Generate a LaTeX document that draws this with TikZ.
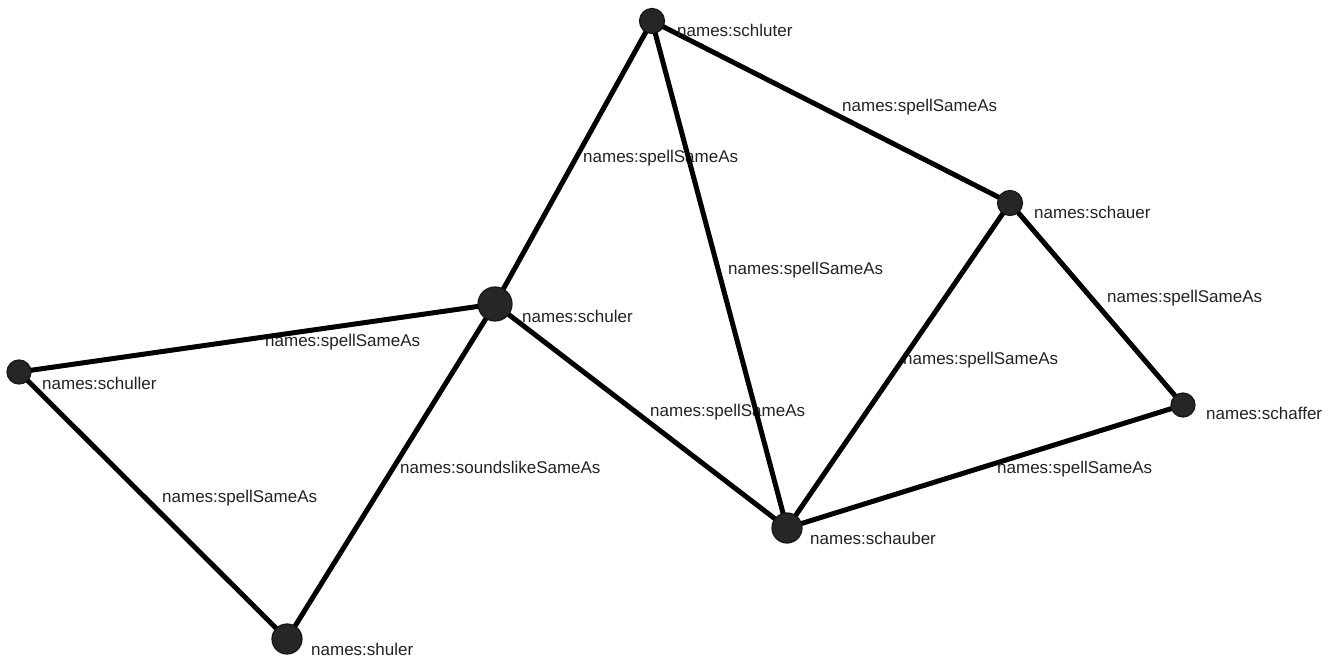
\documentclass[tikz,border=0pt]{standalone}
\usepackage{fontspec}
\setmainfont{Liberation Sans}
\definecolor{ink}{HTML}{262626}
\definecolor{rim}{HTML}{161616}
\definecolor{txt}{HTML}{222222}

\begin{document}
\begin{tikzpicture}[x=1pt,y=-1pt]
      \tikzset{
        ent/.style={circle,draw=rim,fill=ink,line width=1.2pt,inner sep=0pt},
        entlbl/.style={anchor=west,inner sep=0pt,text=txt,font=\fontsize{17}{19}\selectfont},
        rellbl/.style={anchor=west,inner sep=0pt,text=txt,font=\fontsize{17}{19}\selectfont},
        link/.style={draw=black,line width=5pt}
      }
      \useasboundingbox (0,0) rectangle (1334,660);

      % edge labels first, the links run over them
      \node[rellbl] (l1) at (583,158) {names:spellSameAs};
      \node[rellbl] (l2) at (728,270) {names:spellSameAs};
      \node[rellbl] (l3) at (842,107) {names:spellSameAs};
      \node[rellbl] (l4) at (1107,298) {names:spellSameAs};
      \node[rellbl] (l5) at (903,360) {names:spellSameAs};
      \node[rellbl] (l6) at (997,469) {names:spellSameAs};
      \node[rellbl] (l7) at (650,412) {names:spellSameAs};
      \node[rellbl] (l8) at (265,342) {names:spellSameAs};
      \node[rellbl] (l9) at (400,467) {names:soundslikeSameAs};
      \node[rellbl] (l10) at (162,498) {names:spellSameAs};

      \coordinate (schluter) at (652,21);
      \coordinate (schauer) at (1010,203);
      \coordinate (schuler) at (495,304);
      \coordinate (schuller) at (19,372);
      \coordinate (schaffer) at (1183,405);
      \coordinate (schauber) at (787,528);
      \coordinate (shuler) at (287,639);

      \draw[link] (schluter)--(schuler);
      \draw[link] (schluter)--(schauber);
      \draw[link] (schluter)--(schauer);
      \draw[link] (schauer)--(schaffer);
      \draw[link] (schauer)--(schauber);
      \draw[link] (schaffer)--(schauber);
      \draw[link] (schuler)--(schauber);
      \draw[link] (schuler)--(schuller);
      \draw[link] (schuler)--(shuler);
      \draw[link] (schuller)--(shuler);

      \node[ent,minimum size=25pt] (n1) at (schluter) {};
      \node[ent,minimum size=25pt] (n2) at (schauer) {};
      \node[ent,minimum size=34pt] (n3) at (schuler) {};
      \node[ent,minimum size=24pt] (n4) at (schuller) {};
      \node[ent,minimum size=24pt] (n5) at (schaffer) {};
      \node[ent,minimum size=30pt] (n6) at (schauber) {};
      \node[ent,minimum size=30pt] (n7) at (shuler) {};

      \node[entlbl] (t1) at (677,30) {names:schluter};
      \node[entlbl] (t2) at (1034,212) {names:schauer};
      \node[entlbl] (t3) at (522,316) {names:schuler};
      \node[entlbl] (t4) at (42,383) {names:schuller};
      \node[entlbl] (t5) at (1206,413) {names:schaffer};
      \node[entlbl] (t6) at (810,538) {names:schauber};
      \node[entlbl] (t7) at (311,649) {names:shuler};
    \end{tikzpicture}
\end{document}
